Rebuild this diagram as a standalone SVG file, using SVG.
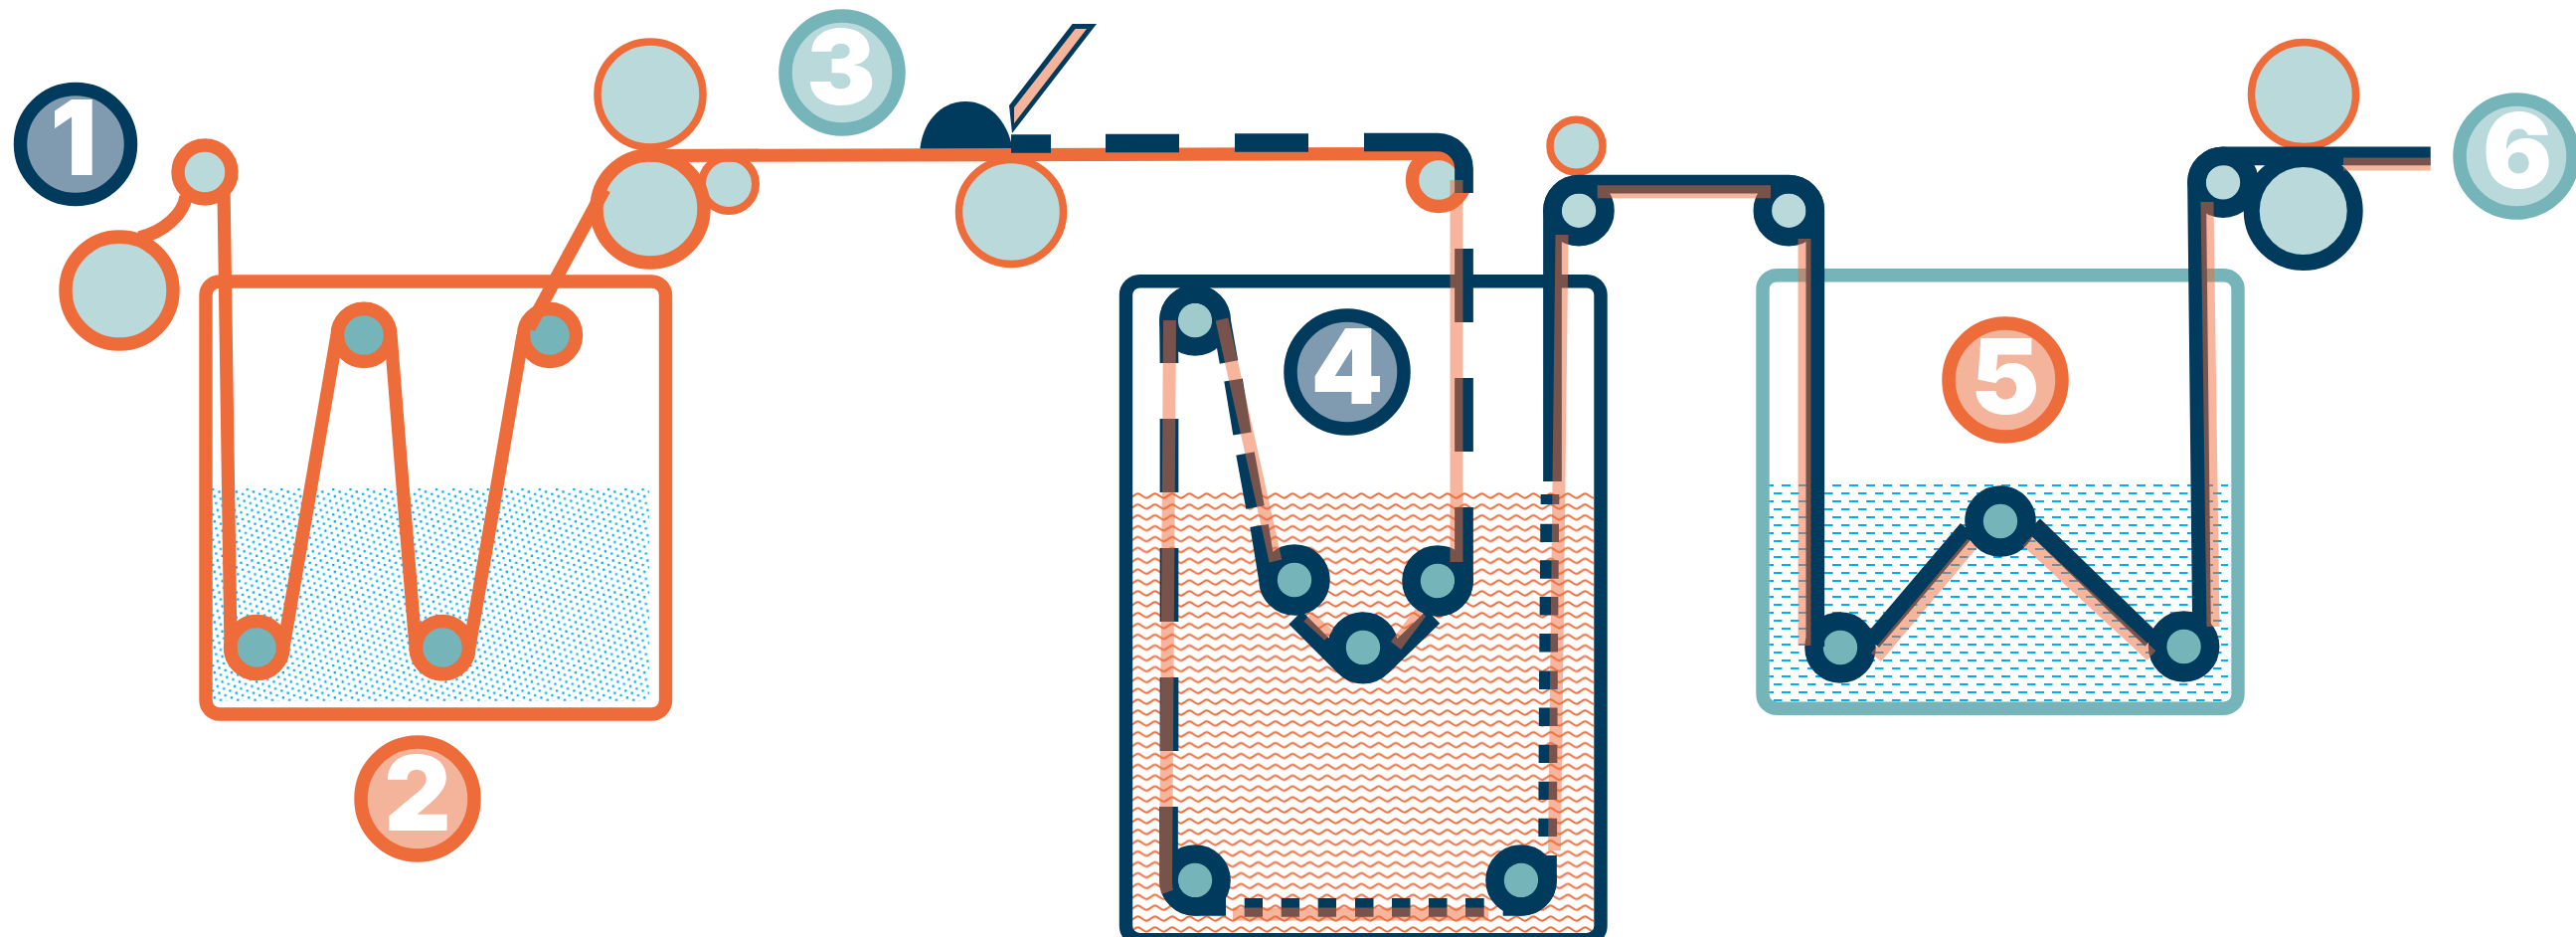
<svg xmlns="http://www.w3.org/2000/svg" width="2591" height="942" viewBox="0 0 2591 942">
<style>
.tank{fill:none;stroke-width:13.4}
.or{stroke:#ee6b3a}.nv{stroke:#003a5d}.tl{stroke:#75b5ba}
.lt{fill:#b9d9db}.md{fill:#75b5ba}.l2{fill:#a0cbcc}
.rs{stroke-width:13.4}.rt{stroke-width:7.5}.rn{stroke-width:18.6}
.badge{stroke-width:13.5}
.digit{font-family:Inter,"Liberation Sans",sans-serif;font-weight:900;font-size:104px;fill:#fff;text-anchor:middle}
.line{fill:none;stroke-linejoin:round}
.solid{stroke:#ee6b3a;stroke-width:13.2}
.navy{stroke:#003a5d;stroke-width:18.7}
.half{stroke:#ee6b3a;stroke-width:13;stroke-opacity:.5}
</style>
<defs>
<pattern id="dots" patternUnits="userSpaceOnUse" x="213" y="491" width="17.3" height="25.3">
<path fill="#00aeef" d="M0,0h2.3v2.3h-2.3z M6.29,2.3h2.3v2.3h-2.3z M12.58,4.6h2.3v2.3h-2.3z M1.57,6.9h2.3v2.3h-2.3z M7.86,9.2h2.3v2.3h-2.3z M14.15,11.5h2.3v2.3h-2.3z M3.14,13.8h2.3v2.3h-2.3z M9.43,16.1h2.3v2.3h-2.3z M15.72,18.4h1.58v2.3h-1.58z M0,18.4h.6v2.3h-.6z M4.71,20.7h2.3v2.3h-2.3z M11,23h2.3v2.3h-2.3z"/>
</pattern>
<pattern id="wave" patternUnits="userSpaceOnUse" x="1139" y="494" width="17.3" height="10.9">
<path d="M-3.15,6.7 C-0.5,6.7 2.9,2.2 5.5,2.2 C8.1,2.2 11.5,6.7 14.15,6.7 C16.8,6.7 20.2,2.2 22.8,2.2" fill="none" stroke="#ee6b3a" stroke-width="2"/>
</pattern>
<pattern id="dash" patternUnits="userSpaceOnUse" x="1778" y="487" width="17" height="16">
<g fill="#00aeef"><rect x="0" y="0" width="6" height="2"/><rect x="14" y="0" width="3" height="2"/><rect x="6" y="8" width="8.5" height="2"/></g>
</pattern>
</defs>

<g id="tank-2">
<rect x="213" y="491" width="440" height="214" fill="url(#dots)"/>
<rect class="tank or" x="207" y="283" width="462.5" height="435" rx="14"/>
</g>
<g id="tank-4">
<rect x="1139" y="494" width="464" height="444" fill="url(#wave)"/>
<rect class="tank nv" x="1132.5" y="282.7" width="477.5" height="662" rx="14"/>
</g>
<g id="tank-5">
<rect x="1778" y="487" width="463" height="218" fill="url(#dash)"/>
<rect class="tank tl" x="1773" y="276.7" width="478" height="435.5" rx="14"/>
</g>

<g id="rollers-1-2">
<circle class="lt or rs" cx="120" cy="292" r="54"/>
<circle class="lt or rs" cx="206" cy="173" r="27"/>
<circle class="md or rs" cx="366" cy="337" r="26.5"/>
<circle class="md or rs" cx="553" cy="337" r="26.5"/>
<circle class="md or rs" cx="258" cy="651" r="26.5"/>
<circle class="md or rs" cx="445" cy="651" r="26.5"/>
</g>
<g id="rollers-3">
<circle class="lt or rt" cx="654" cy="95" r="53"/>
<circle class="lt or" stroke-width="8" cx="733" cy="185" r="27"/>
<circle class="lt or rs" cx="654" cy="210" r="54"/>
<circle class="lt or rt" cx="1017" cy="213" r="52.5"/>
<circle class="lt or rs" cx="1447" cy="181" r="26.5"/>
<circle class="lt or rt" cx="1585.5" cy="146.7" r="26.5"/>
</g>
<g id="blade">
<path d="M925,153 C927,124 945,102 971,102 C997,102 1015,124 1019,153 Z" fill="#003a5d"/>
<path d="M1078.6,24 H1103 L1018,134 L1015,106 Z" fill="#003a5d"/>
<path d="M1081.5,29 H1093 L1020,124 V108 Z" fill="#f4b39b"/>
</g>
<g id="rollers-4">
<circle class="l2 nv rn" cx="1202" cy="322" r="26.5"/>
<circle class="md nv rn" cx="1302" cy="583" r="26.5"/>
<circle class="md nv rn" cx="1371" cy="651" r="26.5"/>
<circle class="md nv rn" cx="1446" cy="584" r="26.5"/>
<circle class="md nv rn" cx="1202" cy="885" r="26.5"/>
<circle class="md nv rn" cx="1530" cy="885" r="26.5"/>
</g>
<g id="rollers-5">
<circle class="lt nv rn" cx="1588" cy="211.7" r="26.5"/>
<circle class="lt nv rn" cx="1799.3" cy="211.7" r="26.5"/>
<circle class="md nv rn" cx="1851" cy="651" r="26.5"/>
<circle class="md nv rn" cx="2012" cy="524" r="26.5"/>
<circle class="md nv rn" cx="2196.6" cy="650" r="26.5"/>
</g>
<g id="rollers-6">
<circle class="lt or rt" cx="2317" cy="95" r="52.5"/>
<circle class="lt nv rn" cx="2236" cy="183.3" r="26.5"/>
<circle class="lt nv" cx="2316.7" cy="212" r="52" stroke-width="16"/>
</g>

<g id="connectors" class="line">
<g class="solid">
<path d="M140,239 C165,233 185,215 187,197"/>
<path d="M225,190 L232,651 A26.5,26.5 0 0 0 285,651 L339,337 A27,27 0 0 1 393,337 L418,651 A27,27 0 0 0 472,651 L526,337"/>
<path d="M532,330 L608,190"/>
<path d="M654,156.5 L1447,154.5"/>
</g>
<g class="navy">
<path d="M1017,144.5 H1057 M1112,144 H1186 M1242,143.5 H1316"/>
<path d="M1372,143 H1446 A26.5,26.5 0 0 1 1472.5,169.5 V194"/>
<path d="M1472.5,250 V324 M1472.5,380 V454"/>
<path d="M1472.5,510 V584 A26.5,26.5 0 0 1 1446,610.5"/>
<path d="M1441.7,620 L1390,670 A26.5,26.5 0 0 1 1352,670 L1303,621"/>
<path d="M1266.6,528.5 L1275.5,583"/>
<path d="M1252.5,456 L1262.5,510 M1240.5,382 L1249.5,436"/>
<path d="M1176,365 L1175.5,322 A26.5,26.5 0 0 1 1228.5,322 L1236,364"/>
<path d="M1176,421 V495 M1176,551 V625 M1176,681 V755"/>
<path d="M1175.5,811 V885 A26.5,26.5 0 0 0 1202,911.5 H1233"/>
<path d="M1251.7,912.4 H1270 M1288.7,912.4 H1307 M1325.7,912.4 H1344 M1363,912.4 H1381.5 M1400,912.4 H1418.5 M1437,912.4 H1455.5 M1474,912.4 H1492.7"/>
<path d="M1511.7,911.5 H1530 A26.5,26.5 0 0 0 1556.5,885 V860"/>
<path d="M1556.7,841 V822.7 M1556.8,804 V785.7 M1557,767 V748.7 M1557.2,730 V711.5 M1557.4,693 V674.5 M1557.7,655.5 V637 M1558,618.5 V600 M1558.3,581.7 V563.3 M1558.6,545 V526.7 M1559,507 V497"/>
<path d="M1561.5,484 V212 A26.5,26.5 0 0 1 1588,185.2 H1799 A26.5,26.5 0 0 1 1825.8,212 V650"/>
<path d="M1883,645 L1979,532"/>
<path d="M2045.4,528 L2164,643"/>
<path d="M2214.5,632 L2209.5,183 A26.5,26.5 0 0 1 2236,156.8 H2444.7"/>
</g>
<g class="half">
<path d="M1465,181 V565"/>
<path d="M1229,321 L1283,564"/>
<path d="M1176.5,322 L1172.5,885 Q1172.5,893 1174,897"/>
<path d="M1315.7,620 L1336.7,639"/>
<path d="M1429,615.7 L1404,649"/>
<path d="M1240,919 H1497"/>
<path d="M1571,236 L1563.5,855"/>
<path d="M1606.7,192.7 H1781"/>
<path d="M1815,240 V649"/>
<path d="M1887,660.7 L1984,546"/>
<path d="M2039,544 L2164,659"/>
<path d="M2220,203 L2226,630"/>
<path d="M2357,165 H2444.7"/>
</g>
</g>

<g id="badge-1"><circle class="badge nv" cx="76" cy="145" r="55.5" fill="#809bb0"/><text class="digit" x="74" y="176">1</text></g>
<g id="badge-2"><circle class="badge or" cx="420" cy="803" r="57" fill="#f4b39b"/><text class="digit" x="420" y="835">2</text></g>
<g id="badge-3"><circle class="badge tl" cx="847" cy="73" r="57" fill="#b9d9db"/><text class="digit" x="846" y="105">3</text></g>
<g id="badge-4"><circle class="badge nv" cx="1355" cy="374" r="57" fill="#809bb0"/><text class="digit" x="1355" y="406">4</text></g>
<g id="badge-5"><circle class="badge or" cx="2017" cy="382" r="57" fill="#f4b39b"/><text class="digit" x="2017" y="416">5</text></g>
<g id="badge-6"><circle class="badge tl" cx="2531" cy="157" r="57" fill="#b9d9db"/><text class="digit" x="2532" y="189">6</text></g>
</svg>
